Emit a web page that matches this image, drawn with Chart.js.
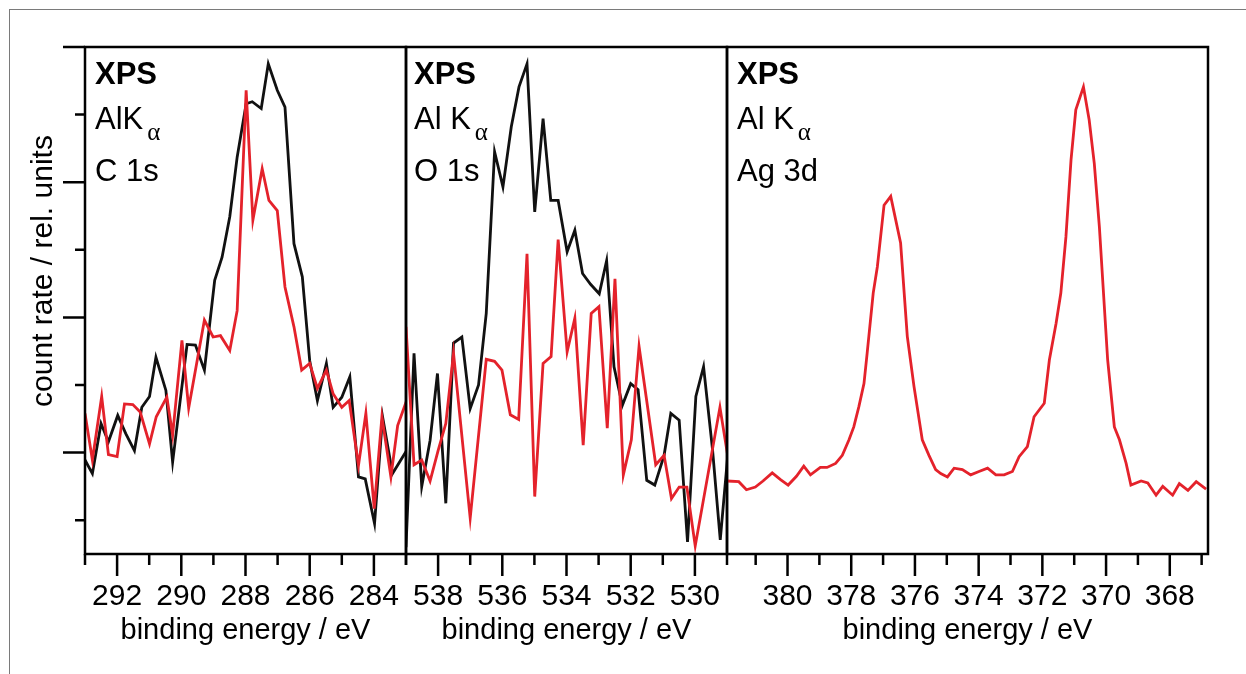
<!DOCTYPE html>
<html>
<head>
<meta charset="utf-8">
<script src="https://cdn.jsdelivr.net/npm/chart.js@4.4.1/dist/chart.umd.min.js"></script>
<style>
  body { margin: 0; background: #fff; }
  #wrap { position: relative; width: 1246px; height: 674px; overflow: hidden; background: #fff; }
  #frame { position: absolute; left: 9px; top: 9px; width: 1300px; height: 700px; border: 1px solid #7a7a7a; }
  canvas { position: absolute; left: 0; top: 0; }
  .lab { position: absolute; font-family: "Liberation Sans", Arial, sans-serif; font-size: 31px; line-height: 31px; color: #000; white-space: nowrap; }
  .lab sub { font-family: "Liberation Serif", "DejaVu Serif", serif; font-size: 25px; line-height: 0; vertical-align: baseline; position: relative; top: 11px; margin-left: 4px; }
</style>
</head>
<body>
<div id="wrap">
  <div id="frame"></div>
  <canvas id="c1s" width="1246" height="674"></canvas>
  <canvas id="o1s" width="1246" height="674"></canvas>
  <canvas id="ag3d" width="1246" height="674"></canvas>

  <div class="lab" style="left:95px;top:58px"><b>XPS</b></div>
  <div class="lab" style="left:95px;top:103px">AlK<sub>α</sub></div>
  <div class="lab" style="left:95px;top:155px">C 1s</div>

  <div class="lab" style="left:414px;top:58px"><b>XPS</b></div>
  <div class="lab" style="left:414px;top:103px">Al K<sub>α</sub></div>
  <div class="lab" style="left:414px;top:155px">O 1s</div>

  <div class="lab" style="left:737px;top:58px"><b>XPS</b></div>
  <div class="lab" style="left:737px;top:103px">Al K<sub>α</sub></div>
  <div class="lab" style="left:737px;top:155px">Ag 3d</div>
</div>
<script>
// C 1s panel
const c1sBlackE = [293.00, 292.77, 292.50, 292.27, 291.98, 291.73, 291.46, 291.23, 290.99, 290.79, 290.48, 290.27, 289.82, 289.56, 289.28, 288.96, 288.73, 288.49, 288.26, 287.98, 287.79, 287.51, 287.29, 287.01, 286.77, 286.49, 286.23, 286.00, 285.76, 285.48, 285.27, 285.00, 284.75, 284.48, 284.27, 283.98, 283.73, 283.42, 282.98];
const c1sBlackI = [0.89, 0.69, 1.43, 1.16, 1.55, 1.28, 1.03, 1.67, 1.83, 2.41, 1.92, 0.86, 2.60, 2.59, 2.22, 3.55, 3.89, 4.49, 5.37, 6.16, 6.19, 6.09, 6.75, 6.36, 6.11, 4.09, 3.60, 2.36, 1.77, 2.32, 1.67, 1.82, 2.12, 0.64, 0.61, -0.05, 1.53, 0.69, 1.03];
const c1sRedE = [293.00, 292.77, 292.48, 292.27, 292.00, 291.77, 291.51, 291.28, 290.99, 290.78, 290.45, 290.27, 289.98, 289.77, 289.28, 289.01, 288.78, 288.49, 288.26, 287.98, 287.77, 287.48, 287.27, 287.01, 286.77, 286.49, 286.25, 286.00, 285.76, 285.48, 285.27, 285.00, 284.77, 284.48, 284.25, 283.99, 283.75, 283.47, 283.26, 282.98];
const c1sRedI = [1.58, 0.89, 1.83, 0.97, 0.94, 1.72, 1.71, 1.60, 1.13, 1.53, 1.82, 1.26, 2.66, 1.66, 2.96, 2.71, 2.73, 2.51, 3.10, 6.36, 4.44, 5.20, 4.73, 4.58, 3.45, 2.86, 2.22, 2.32, 1.95, 2.22, 1.87, 1.67, 1.77, 0.81, 1.58, 0.17, 1.53, 0.64, 1.40, 1.77];
const c1sTicks = [293, 292, 291, 290, 289, 288, 287, 286, 285, 284, 283];
const c1sLabels = [292, 290, 288, 286, 284];

// O 1s panel
const o1sBlackE = [539.00, 538.75, 538.51, 538.25, 538.02, 537.76, 537.52, 537.26, 537.00, 536.74, 536.50, 536.24, 535.98, 535.72, 535.48, 535.23, 534.99, 534.73, 534.49, 534.26, 533.98, 533.74, 533.50, 533.25, 532.98, 532.75, 532.52, 532.26, 532.00, 531.77, 531.50, 531.25, 530.96, 530.75, 530.49, 530.23, 529.97, 529.73, 529.45, 529.21, 528.98];
const o1sBlackI = [-0.40, 2.47, 0.50, 1.18, 2.17, 0.25, 2.62, 2.71, 1.65, 2.00, 3.06, 5.45, 4.93, 5.82, 6.41, 6.75, 4.56, 5.94, 4.73, 4.73, 3.97, 4.29, 3.65, 3.49, 3.35, 3.84, 2.27, 1.70, 2.02, 1.93, 0.59, 0.52, 0.96, 1.58, 1.48, -0.32, 1.83, 2.27, 1.04, -0.29, 0.94];
const o1sRedE = [539.00, 538.75, 538.51, 538.25, 538.00, 537.76, 537.52, 537.00, 536.50, 536.24, 536.01, 535.75, 535.49, 535.23, 534.99, 534.73, 534.48, 534.26, 533.98, 533.74, 533.48, 533.23, 532.99, 532.73, 532.49, 532.23, 531.98, 531.74, 531.22, 530.96, 530.73, 530.49, 530.25, 529.99, 529.22, 528.98];
const o1sRedI = [2.86, 0.82, 0.89, 0.58, 1.03, 1.43, 2.47, 0.03, 2.38, 2.35, 2.22, 1.56, 1.49, 3.94, 0.35, 2.32, 2.42, 4.15, 2.49, 2.99, 1.11, 3.06, 3.16, 1.36, 3.57, 0.67, 1.19, 2.57, 0.82, 0.96, 0.32, 0.49, 0.49, -0.38, 1.67, 0.96];
const o1sTicks = [539, 538, 537, 536, 535, 534, 533, 532, 531, 530, 529];
const o1sLabels = [538, 536, 534, 532, 530];

// Ag 3d panel (red only)
const ag3dE = [381.90, 381.53, 381.29, 381.01, 380.77, 380.48, 380.22, 379.98, 379.72, 379.49,
  379.28, 378.97, 378.76, 378.49, 378.28, 378.07, 377.92, 377.76, 377.60, 377.50,
  377.31, 377.18, 376.97, 376.76, 376.45, 376.24, 376.03, 375.77, 375.56, 375.35,
  375.19, 374.98, 374.77, 374.51, 374.25, 373.99, 373.72, 373.46, 373.20, 372.94,
  372.73, 372.47, 372.26, 372.10, 371.94, 371.78, 371.57, 371.42, 371.26, 371.10,
  370.95, 370.71, 370.53, 370.37, 370.21, 369.95, 369.74, 369.58, 369.37, 369.22,
  368.90, 368.69, 368.43, 368.22, 367.91, 367.70, 367.43, 367.17, 366.86];
const ag3dI = [0.58, 0.57, 0.45, 0.49, 0.58, 0.70, 0.60, 0.52, 0.65, 0.80,
  0.67, 0.78, 0.78, 0.84, 0.96, 1.19, 1.38, 1.68, 2.02, 2.47,
  3.36, 3.75, 4.66, 4.79, 4.10, 2.72, 1.98, 1.19, 0.96, 0.75,
  0.69, 0.64, 0.77, 0.75, 0.67, 0.72, 0.77, 0.67, 0.67, 0.72,
  0.94, 1.09, 1.53, 1.63, 1.73, 2.37, 2.91, 3.36, 4.19, 5.33,
  6.07, 6.41, 5.92, 5.28, 4.34, 2.37, 1.38, 1.19, 0.84, 0.52,
  0.58, 0.55, 0.37, 0.50, 0.37, 0.54, 0.44, 0.57, 0.46];
const ag3dTicks = [381, 380, 379, 378, 377, 376, 375, 374, 373, 372, 371, 370, 369, 368, 367];
const ag3dLabels = [380, 378, 376, 374, 372, 370, 368];

// shared y axis (no labels)
const yTicks = [0, 1, 2, 3, 4, 5, 6, 7];
const yMajor = [1, 3, 5, 7];

const FONT = '"Liberation Sans", Arial, sans-serif';
const RED = '#e4222b';
const BLACK = '#111111';

function pts(es, vs) {
    return es.map((e, i) => ({ x: e, y: vs[i] }));
}

// frame + long/short tick marks, y title
const axisFrame = {
    id: 'axisFrame',
    afterDraw(chart, args, opts) {
        const ctx = chart.ctx;
        const a = chart.chartArea;
        ctx.save();
        ctx.strokeStyle = '#000';
        ctx.lineWidth = 2.5;
        ctx.strokeRect(a.left, a.top, a.right - a.left, a.bottom - a.top);
        ctx.beginPath();
        const xs = chart.scales.x;
        xs.ticks.forEach(t => {
            const px = xs.getPixelForValue(t.value);
            const len = opts.labels.includes(t.value) ? 22 : 11;
            ctx.moveTo(px, a.bottom);
            ctx.lineTo(px, a.bottom + len);
        });
        if (opts.yAxis) {
            const ys = chart.scales.y;
            yTicks.forEach(v => {
                const py = ys.getPixelForValue(v);
                const len = yMajor.includes(v) ? 22 : 10;
                ctx.moveTo(a.left - len, py);
                ctx.lineTo(a.left, py);
            });
        }
        ctx.stroke();
        if (opts.yTitle) {
            ctx.translate(a.left - 33, 271);
            ctx.rotate(-Math.PI / 2);
            ctx.font = '30px ' + FONT;
            ctx.fillStyle = '#000';
            ctx.textAlign = 'center';
            ctx.textBaseline = 'alphabetic';
            ctx.fillText(opts.yTitle, 0, 0);
        }
        ctx.restore();
    }
};

function makePanel(id, xMin, xMax, xTicks, xLabels, datasets, pad, showY) {
    return new Chart(document.getElementById(id), {
        type: 'line',
        data: { datasets: datasets },
        options: {
            responsive: false,
            animation: false,
            layout: { padding: pad, autoPadding: false },
            elements: {
                point: { radius: 0 },
                line: { borderWidth: 2.8, tension: 0 }
            },
            plugins: {
                legend: { display: false },
                tooltip: { enabled: false },
                axisFrame: { labels: xLabels, yAxis: showY, yTitle: showY ? 'count rate / rel. units' : null }
            },
            scales: {
                x: {
                    type: 'linear',
                    min: xMin,
                    max: xMax,
                    reverse: true,
                    grid: { display: false, drawTicks: true, tickLength: 22 },
                    border: { display: false },
                    afterBuildTicks: s => { s.ticks = xTicks.map(v => ({ value: v })); },
                    ticks: {
                        autoSkip: false,
                        maxRotation: 0,
                        padding: 3,
                        color: '#000',
                        font: { family: FONT, size: 30, lineHeight: 1.2 },
                        callback: v => xLabels.includes(v) ? String(v) : ''
                    },
                    title: {
                        display: true,
                        text: 'binding energy / eV',
                        color: '#000',
                        font: { family: FONT, size: 29, lineHeight: 1 },
                        padding: { top: 0, bottom: 29 }
                    },
                    afterFit: s => { s.height = 120; }
                },
                y: {
                    type: 'linear',
                    min: -0.5,
                    max: 7,
                    display: showY,
                    grid: { display: false },
                    border: { display: false },
                    ticks: { display: false },
                    afterFit: s => { s.width = showY ? 85 : 0; }
                }
            }
        },
        plugins: [axisFrame]
    });
}

makePanel('c1s', 283, 293, c1sTicks, c1sLabels, [
    { data: pts(c1sRedE, c1sRedI), borderColor: RED },
    { data: pts(c1sBlackE, c1sBlackI), borderColor: BLACK }
], { left: 0, right: 840, top: 47, bottom: 0 }, true);

makePanel('o1s', 529, 539, o1sTicks, o1sLabels, [
    { data: pts(o1sRedE, o1sRedI), borderColor: RED },
    { data: pts(o1sBlackE, o1sBlackI), borderColor: BLACK }
], { left: 406, right: 519, top: 47, bottom: 0 }, false);

makePanel('ag3d', 366.8, 381.9, ag3dTicks, ag3dLabels, [
    { data: pts(ag3dE, ag3dI), borderColor: RED }
], { left: 727, right: 38, top: 47, bottom: 0 }, false);
</script>
</body>
</html>
